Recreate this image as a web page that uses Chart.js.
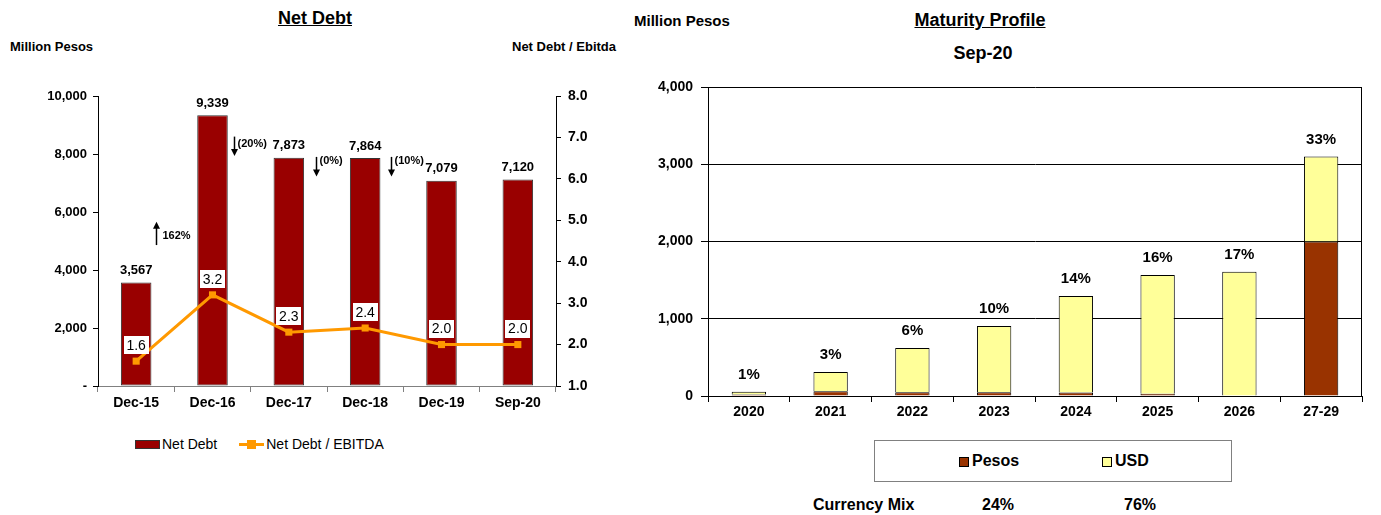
<!DOCTYPE html>
<html>
<head>
<meta charset="utf-8">
<title>Net Debt / Maturity Profile</title>
<script src="https://cdn.jsdelivr.net/npm/chart.js@4.4.0/dist/chart.umd.min.js"></script>
<style>
  body { margin: 0; background: #fff; }
  #page { position: relative; width: 1381px; height: 515px; overflow: hidden;
          font-family: "Liberation Sans", Arial, sans-serif; color: #000; }
  .txt { position: absolute; white-space: nowrap; line-height: 1; font-weight: bold; }
  .c { transform: translateX(-50%); }
  canvas { position: absolute; }
  .legend1 { position: absolute; top: 436px; left: 135px; font-size: 14px; white-space: nowrap; line-height: 16px; }
  .sw-bar { display: inline-block; width: 23px; height: 7px; background: #990000; border: 1px solid #333;
            vertical-align: middle; margin-right: 2px; position: relative; top: -1px; }
  .sw-line { display: inline-block; width: 25px; height: 9px; vertical-align: middle; position: relative;
             margin-left: 22px; margin-right: 2px; top: -1px; }
  .sw-line::before { content: ""; position: absolute; left: 0; right: 0; top: 3px; height: 3px; background: #ff9900; }
  .sw-line::after { content: ""; position: absolute; left: 8px; top: 0; width: 9px; height: 9px; background: #ff9900; }
  #legend2 { position: absolute; left: 874px; top: 440px; width: 356px; height: 40px; border: 1px solid #808080; }
  .sw2 { position: absolute; top: 16px; width: 8px; height: 8px; border: 1px solid #000; }
</style>
</head>
<body>
<div id="page">
  <div class="txt c" style="left:315px; top:9px; font-size:18px; text-decoration:underline;">Net Debt</div>
  <div class="txt" style="left:10px; top:40px; font-size:13px;">Million Pesos</div>
  <div class="txt" style="left:512px; top:40px; font-size:13px;">Net Debt / Ebitda</div>

  <div class="txt" style="left:634px; top:13px; font-size:15px;">Million Pesos</div>
  <div class="txt c" style="left:980px; top:11px; font-size:18px; text-decoration:underline;">Maturity Profile</div>
  <div class="txt c" style="left:983px; top:44px; font-size:18px;">Sep-20</div>

  <canvas id="debtChart" width="640" height="420" style="left:0; top:0;"></canvas>
  <canvas id="maturityChart" width="741" height="430" style="left:640px; top:0;"></canvas>

  <div class="legend1"><span class="sw-bar"></span>Net Debt<span class="sw-line"></span>Net Debt / EBITDA</div>

  <div id="legend2">
    <span class="sw2" style="left:84px; background:#993300;"></span>
    <span class="txt" style="left:97px; top:12px; font-size:16px;">Pesos</span>
    <span class="sw2" style="left:227px; background:#ffff99;"></span>
    <span class="txt" style="left:240px; top:12px; font-size:16px;">USD</span>
  </div>

  <div class="txt" style="left:813px; top:497px; font-size:16px;">Currency Mix</div>
  <div class="txt c" id="mixPesos" style="left:998px; top:497px; font-size:16px;"></div>
  <div class="txt c" id="mixUsd" style="left:1140px; top:497px; font-size:16px;"></div>
</div>

<script>
// Net debt history
var debtLabels = ['Dec-15', 'Dec-16', 'Dec-17', 'Dec-18', 'Dec-19', 'Sep-20'];
var netDebt = [3567, 9339, 7873, 7864, 7079, 7120];
var debtToEbitda = [1.6, 3.2, 2.3, 2.4, 2.0, 2.0];
var debtChange = ['162%', '(20%)', '(0%)', '(10%)'];

// Maturity profile
var maturityYears = ['2020', '2021', '2022', '2023', '2024', '2025', '2026', '27-29'];
var pesosDebt = [20, 60, 50, 50, 45, 30, 0, 2000];
var usdDebt = [35, 250, 570, 855, 1250, 1535, 1607, 1100];
var maturityShare = ['1%', '3%', '6%', '10%', '14%', '16%', '17%', '33%'];
var currencyMix = ['24%', '76%'];

var FONT = '"Liberation Sans", Arial, sans-serif';

document.getElementById('mixPesos').textContent = currencyMix[0];
document.getElementById('mixUsd').textContent = currencyMix[1];

// arrows between bars: gap index, x shift from the gap centre, start/end and text height in pesos
var arrowMarks = [
    { gap: 0, dx: -18, from: 4860, to: 5660, at: 5170 },
    { gap: 1, dx: -17, from: 8600, to: 7930, at: 8330 },
    { gap: 2, dx: -11, from: 7900, to: 7220, at: 7760 },
    { gap: 3, dx: -12, from: 7900, to: 7220, at: 7760 }
];

var debtValues = {
    id: 'debtValues',
    afterDatasetsDraw: function(chart) {
        var ctx = chart.ctx;
        var bars = chart.getDatasetMeta(1);
        var pts = chart.getDatasetMeta(0);
        var x = chart.scales.x, y = chart.scales.y;
        ctx.save();
        ctx.textAlign = 'center';
        ctx.textBaseline = 'middle';
        ctx.fillStyle = '#000';
        ctx.font = 'bold 13px ' + FONT;
        bars.data.forEach(function(b, i) {
            ctx.fillText(netDebt[i].toLocaleString('en-US'), b.x, b.y - 12);
        });

        // change arrows
        ctx.strokeStyle = '#000';
        ctx.lineWidth = 1.5;
        ctx.font = 'bold 11px ' + FONT;
        ctx.textAlign = 'left';
        arrowMarks.forEach(function(a, i) {
            var ax = Math.round((x.getPixelForValue(a.gap) + x.getPixelForValue(a.gap + 1)) / 2 + a.dx) + 0.5;
            var y0 = y.getPixelForValue(a.from);
            var y1 = y.getPixelForValue(a.to);
            var dir = y1 < y0 ? -1 : 1;
            ctx.beginPath();
            ctx.moveTo(ax, y0);
            ctx.lineTo(ax, y1 - dir * 5);
            ctx.stroke();
            ctx.beginPath();
            ctx.moveTo(ax - 3.5, y1 - dir * 7);
            ctx.lineTo(ax + 3.5, y1 - dir * 7);
            ctx.lineTo(ax, y1);
            ctx.closePath();
            ctx.fill();
            ctx.fillText(debtChange[i], ax + (dir < 0 ? 6 : 3), y.getPixelForValue(a.at));
        });

        // ratio labels in white boxes
        ctx.textAlign = 'center';
        ctx.font = '14px ' + FONT;
        pts.data.forEach(function(p, i) {
            var t = debtToEbitda[i].toFixed(1);
            var w = Math.round(ctx.measureText(t).width) + 6;
            var cy = p.y - 16;
            ctx.fillStyle = '#fff';
            ctx.fillRect(Math.round(p.x - w / 2), Math.round(cy - 9), w, 18);
            ctx.fillStyle = '#000';
            ctx.fillText(t, p.x, cy + 1);
        });
        ctx.restore();
    }
};

new Chart(document.getElementById('debtChart'), {
    type: 'bar',
    data: {
        labels: debtLabels,
        datasets: [{
            type: 'line',
            label: 'Net Debt / EBITDA',
            data: debtToEbitda,
            yAxisID: 'y1',
            borderColor: '#ff9900',
            backgroundColor: '#ff9900',
            borderWidth: 3,
            pointStyle: 'rect',
            pointRadius: 5,
            pointBackgroundColor: '#ff9900',
            pointBorderWidth: 0,
            tension: 0,
            order: 1
        }, {
            label: 'Net Debt',
            data: netDebt,
            yAxisID: 'y',
            backgroundColor: '#990000',
            borderColor: '#333333',
            borderWidth: 1,
            borderSkipped: false,
            barPercentage: 0.4,
            categoryPercentage: 1,
            order: 2
        }]
    },
    options: {
        responsive: false,
        animation: false,
        devicePixelRatio: 1,
        layout: { padding: { top: 96, left: 0, right: 0, bottom: 0 } },
        plugins: { legend: { display: false }, tooltip: { enabled: false } },
        scales: {
            x: {
                afterFit: function(s) { s.height = 34; },
                grid: { offset: true, drawOnChartArea: false, tickLength: 6, color: '#808080' },
                border: { color: '#808080' },
                ticks: { color: '#000', padding: 3, font: { family: FONT, size: 14, weight: 'bold' } }
            },
            y: {
                position: 'left',
                min: 0, max: 10000,
                afterFit: function(s) { s.width = 98; },
                grid: { drawOnChartArea: false, tickLength: 5, color: '#000' },
                border: { color: '#000' },
                ticks: {
                    stepSize: 2000, color: '#000', padding: 6,
                    font: { family: FONT, size: 13, weight: 'bold' },
                    callback: function(v) { return v === 0 ? '-' : v.toLocaleString('en-US'); }
                }
            },
            y1: {
                position: 'right',
                min: 1, max: 8,
                afterFit: function(s) { s.width = 84; },
                grid: { drawOnChartArea: false, tickLength: 5, color: '#000' },
                border: { color: '#000' },
                ticks: {
                    stepSize: 1, color: '#000', padding: 7,
                    font: { family: FONT, size: 14, weight: 'bold' },
                    callback: function(v) { return v.toFixed(1); }
                }
            }
        }
    },
    plugins: [debtValues]
});

var maturityLabels = {
    id: 'maturityLabels',
    afterDatasetsDraw: function(chart) {
        var ctx = chart.ctx;
        var y = chart.scales.y;
        var meta = chart.getDatasetMeta(1);
        var a = chart.chartArea;
        ctx.save();
        // right side of the frame
        ctx.strokeStyle = '#000';
        ctx.lineWidth = 1;
        ctx.beginPath();
        ctx.moveTo(Math.round(a.right) - 0.5, a.top);
        ctx.lineTo(Math.round(a.right) - 0.5, a.bottom);
        ctx.stroke();

        ctx.fillStyle = '#000';
        ctx.textAlign = 'center';
        ctx.textBaseline = 'middle';
        ctx.font = 'bold 15px ' + FONT;
        meta.data.forEach(function(b, i) {
            var top = y.getPixelForValue(pesosDebt[i] + usdDebt[i]);
            ctx.fillText(maturityShare[i], b.x, top - 17);
        });
        ctx.restore();
    }
};

new Chart(document.getElementById('maturityChart'), {
    type: 'bar',
    data: {
        labels: maturityYears,
        datasets: [{
            label: 'Pesos',
            data: pesosDebt,
            backgroundColor: '#993300',
            borderColor: '#000',
            borderWidth: 1,
            barPercentage: 0.42,
            categoryPercentage: 1
        }, {
            label: 'USD',
            data: usdDebt,
            backgroundColor: '#ffff99',
            borderColor: '#000',
            borderWidth: 1,
            barPercentage: 0.42,
            categoryPercentage: 1
        }]
    },
    options: {
        responsive: false,
        animation: false,
        devicePixelRatio: 1,
        layout: { padding: { top: 87, left: 0, right: 19, bottom: 0 } },
        plugins: { legend: { display: false }, tooltip: { enabled: false } },
        scales: {
            x: {
                stacked: true,
                afterFit: function(s) { s.height = 34; },
                grid: { offset: true, drawOnChartArea: false, tickLength: 6, color: '#000' },
                border: { color: '#000' },
                ticks: { color: '#000', padding: 2, font: { family: FONT, size: 14, weight: 'bold' } }
            },
            y: {
                stacked: true,
                min: 0, max: 4000,
                afterFit: function(s) { s.width = 68; },
                grid: { tickLength: 7, color: '#000' },
                border: { color: '#000' },
                ticks: {
                    stepSize: 1000, color: '#000', padding: 8,
                    font: { family: FONT, size: 14, weight: 'bold' },
                    callback: function(v) { return v.toLocaleString('en-US'); }
                }
            }
        }
    },
    plugins: [maturityLabels]
});
</script>
</body>
</html>
